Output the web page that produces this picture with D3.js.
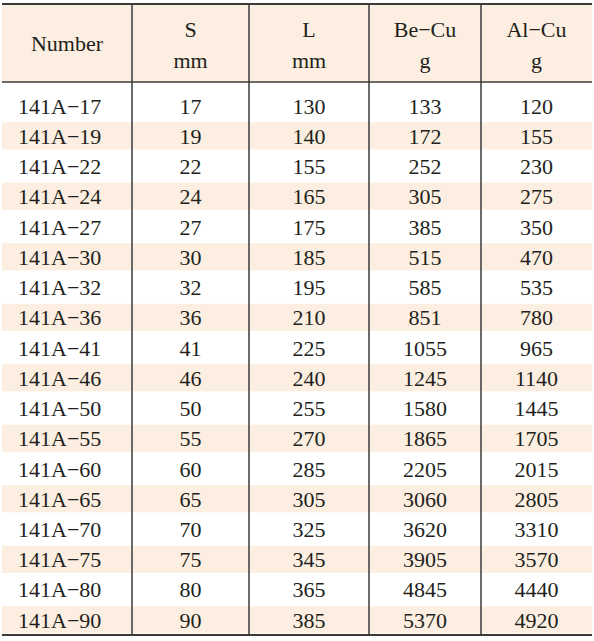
<!DOCTYPE html><html><head><meta charset="utf-8"><script src="https://cdn.jsdelivr.net/npm/d3@7"></script>
<style>body{margin:0;background:#fff}</style></head><body><svg id="c" width="594" height="641"></svg><script>
const headers=[["Number"],["S","mm"],["L","mm"],["Be\u2212Cu","g"],["Al\u2212Cu","g"]];
const numbers=["141A\u221217","141A\u221219","141A\u221222","141A\u221224","141A\u221227","141A\u221230","141A\u221232","141A\u221236","141A\u221241","141A\u221246","141A\u221250","141A\u221255","141A\u221260","141A\u221265","141A\u221270","141A\u221275","141A\u221280","141A\u221290"];
const sVals=[17,19,22,24,27,30,32,36,41,46,50,55,60,65,70,75,80,90];
const lVals=[130,140,155,165,175,185,195,210,225,240,255,270,285,305,325,345,365,385];
const beCu=[133,172,252,305,385,515,585,851,1055,1245,1580,1865,2205,3060,3620,3905,4845,5370];
const alCu=[120,155,230,275,350,470,535,780,965,1140,1445,1705,2015,2805,3310,3570,4440,4920];
(function(){
const rows=numbers.map((n,i)=>[n,sVals[i],lVals[i],beCu[i],alCu[i]]);
const svg=d3.select("#c");
const edges=[2,132,249,369,481,592];
const tY=4,headBot=82,bodyTop=91,rowH=30.24,bot=635;
const y=d3.scaleLinear().domain([0,rows.length]).range([bodyTop,bodyTop+rowH*rows.length]);
const font="'Liberation Serif',serif";
svg.append("rect").attr("x",2).attr("y",tY).attr("width",590).attr("height",headBot-tY).attr("fill","#fcefe1");
rows.forEach((r,i)=>{if(i%2===1)svg.append("rect").attr("x",2).attr("y",y(i)+1).attr("width",590).attr("height",rowH-3).attr("fill","#fcefe1");});
headers.forEach((h,j)=>{const cx=(edges[j]+edges[j+1])/2;
 const ys=h.length===1?[51]:[37,68];
 h.forEach((t,k)=>svg.append("text").attr("x",cx).attr("y",ys[k]).attr("text-anchor","middle").attr("font-family",font).attr("font-size",22).attr("fill","#231f20").text(t));});
rows.forEach((r,i)=>r.forEach((v,j)=>{const cx=(edges[j]+edges[j+1])/2;
 svg.append("text").attr("x",j===0?18:cx).attr("y",y(i)+rowH/2+7.5).attr("text-anchor",j===0?"start":"middle").attr("font-family",font).attr("font-size",22).attr("fill","#231f20").text(v);}));
const ln=(x1,y1,x2,y2,w)=>svg.append("line").attr("x1",x1).attr("y1",y1).attr("x2",x2).attr("y2",y2).attr("stroke","#3a3a3a").attr("stroke-width",w);
ln(2,tY,592,tY,2);ln(2,headBot,592,headBot,1.5);ln(2,bot,592,bot,2);
edges.slice(1,-1).forEach(x=>ln(x,tY,x,bot,1.5));
})();
</script></body></html>
